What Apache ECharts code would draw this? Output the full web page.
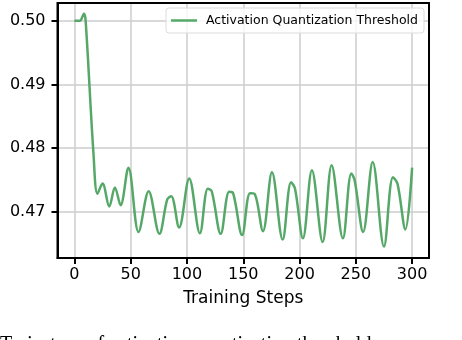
<!DOCTYPE html>
<html lang="en">
<head>
  <meta charset="UTF-8">
  <title>Activation Quantization Threshold</title>
  <style>
    html, body { margin: 0; padding: 0; background: #fff; }
    #main { width: 462px; height: 340px; }
  </style>
  <script src="https://cdn.jsdelivr.net/npm/echarts@6/dist/echarts.min.js"></script>
</head>
<body>
  <div id="main"></div>
  <script>
    // values (training step -> threshold), mostly the turning points
    var steps = [0, 5, 7, 8.5, 10, 17, 20.5, 25, 31, 36, 41, 48, 57, 66, 75.5, 82.5, 86, 93,
      102, 111.5, 118.5, 122, 130, 137.5, 141, 149, 156, 160, 167.5,
      175.5, 185, 192.5, 196, 203, 211, 220.5, 228.5, 238.5,
      246, 249, 256.5, 265, 275, 283, 287, 294, 300];
    var threshold = [0.5000, 0.5000, 0.5006, 0.5011, 0.5000, 0.4790, 0.4728, 0.4744, 0.4708, 0.4738, 0.4710,
      0.4769, 0.4668, 0.4732, 0.4665, 0.4719, 0.4724, 0.4675,
      0.4752, 0.4666, 0.4736, 0.4732, 0.4665, 0.4731, 0.4729, 0.4663, 0.4729, 0.4728, 0.4669,
      0.4762, 0.4656, 0.4746, 0.4736, 0.4658, 0.4765, 0.4652, 0.4773, 0.4658,
      0.4760, 0.4749, 0.4668, 0.4778, 0.4645, 0.4754, 0.4744, 0.4672, 0.4769];
    var xTicks = [0, 50, 100, 150, 200, 250, 300];
    var yTicks = [0.47, 0.48, 0.49, 0.50];
    var seriesName = 'Activation Quantization Threshold';
    var caption = 'Trajectory of activation quantization threshold.';

    var font = 'DejaVu Sans';
    var myChart = echarts.init(document.getElementById('main'), null, { renderer: 'canvas' });

    option = {
      animation: false,
      backgroundColor: '#ffffff',
      grid: { left: 57.5, right: 33, top: 3, bottom: 82, containLabel: false },
      legend: {
        right: 38, top: 8,
        padding: [6, 6, 6, 5],
        icon: 'rect', itemWidth: 26, itemHeight: 2.5,
        backgroundColor: 'rgba(255,255,255,0.8)',
        borderColor: '#dcdcdc', borderWidth: 1, borderRadius: 3,
        textStyle: { fontFamily: font, fontSize: 12.5, color: '#000', padding: [0, 0, 0, 4] },
        data: [seriesName]
      },
      xAxis: {
        type: 'value', min: -15, max: 315,
        name: 'Training Steps', nameLocation: 'middle', nameGap: 32,
        nameTextStyle: { fontFamily: font, fontSize: 17, color: '#000' },
        axisLine: { onZero: false, lineStyle: { color: '#000', width: 2 } },
        axisTick: { customValues: xTicks, length: 6, lineStyle: { color: '#000', width: 2 } },
        axisLabel: { customValues: xTicks, margin: 9, fontFamily: font, fontSize: 16, color: '#000' },
        splitLine: { show: true, lineStyle: { color: '#cccccc', width: 1.5 } }
      },
      yAxis: {
        type: 'value', min: 0.4627, max: 0.5028,
        axisLine: { show: true, onZero: false, lineStyle: { color: '#000', width: 2 } },
        axisTick: { show: true, customValues: yTicks, length: 6, lineStyle: { color: '#000', width: 2 } },
        axisLabel: {
          customValues: yTicks, margin: 12, fontFamily: font, fontSize: 16, color: '#000',
          formatter: function (v) { return v.toFixed(2); }
        },
        splitLine: { show: true, lineStyle: { color: '#cccccc', width: 1.5 } }
      },
      graphic: [
        // right and top frame lines of the plot box
        { type: 'rect', shape: { x: 57.5, y: 3, width: 371.5, height: 255 }, silent: true, z: 10,
          style: { fill: 'none', stroke: '#000', lineWidth: 2 } },
        { type: 'text', left: 0, top: 335, silent: true,
          style: { text: caption, font: '20px "Liberation Serif"', fill: '#000' } }
      ],
      series: [{
        name: seriesName,
        type: 'line',
        data: steps.map(function (s, i) { return [s, threshold[i]]; }),
        smooth: 0.35,
        symbol: 'none',
        lineStyle: { color: '#55a868', width: 2.5 },
        itemStyle: { color: '#55a868' }
      }]
    };
    myChart.setOption(option);
  </script>
</body>
</html>
